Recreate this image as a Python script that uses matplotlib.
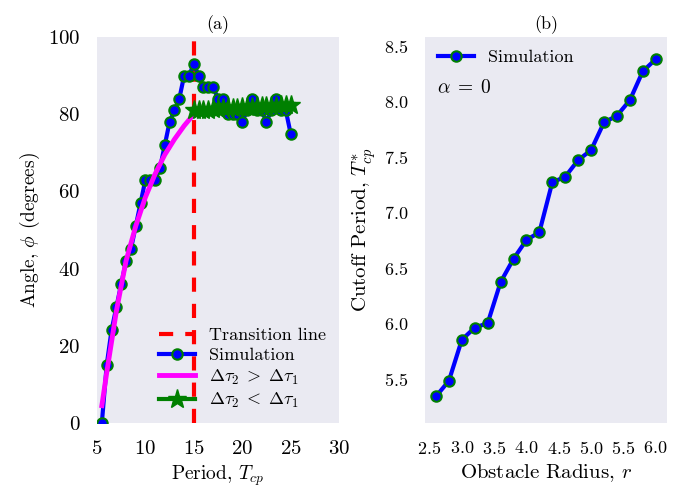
import matplotlib
matplotlib.use("Agg")
import matplotlib.pyplot as plt

# panel (a): angle vs period
period = [5.5, 6.0, 6.5, 7.0, 7.5, 8.0, 8.5, 9.0, 9.5, 10.0,
          10.5, 11.0, 11.5, 12.0, 12.5, 13.0, 13.5, 14.0, 14.5, 15.0,
          15.5, 16.0, 16.5, 17.0, 17.5, 18.0, 18.5, 19.0, 19.5, 20.0,
          20.5, 21.0, 21.5, 22.0, 22.5, 23.0, 23.5, 24.0, 24.5, 25.0]
angle_sim = [0, 15, 24, 30, 36, 42, 45, 51, 57, 63,
             63, 63, 66, 72, 78, 81, 84, 90, 90, 93,
             90, 87, 87, 87, 84, 84, 80, 80, 80, 78,
             81, 84, 81, 81, 78, 81, 84, 81, 81, 75]

period_gt = [5.5, 6.0, 7.0, 8.0, 9.0, 10.0, 11.0, 12.0, 13.0, 14.0, 15.0]
angle_gt = [4.5, 13, 29, 42, 51, 58.5, 64.5, 69.5, 73.5, 77, 80]

period_lt = [15.0, 15.5, 16.0, 16.5, 17.0, 17.5, 18.0, 18.5, 19.0, 19.5,
             20.0, 20.5, 21.0, 21.5, 22.0, 22.5, 23.0, 23.5, 24.0, 24.5, 25.0]
angle_lt = [81.0, 81.1, 81.2, 81.2, 81.3, 81.4, 81.5, 81.5, 81.6, 81.7,
            81.8, 81.8, 81.9, 82.0, 82.0, 82.1, 82.2, 82.2, 82.3, 82.4, 82.5]

transition = 15

# panel (b): cutoff period vs obstacle radius
radius = [2.6, 2.8, 3.0, 3.2, 3.4, 3.6, 3.8, 4.0, 4.2, 4.4,
          4.6, 4.8, 5.0, 5.2, 5.4, 5.6, 5.8, 6.0]
cutoff = [5.34, 5.48, 5.85, 5.96, 6.00, 6.37, 6.58, 6.75, 6.82, 7.27,
          7.32, 7.47, 7.56, 7.81, 7.87, 8.01, 8.27, 8.38]

plt.rcParams['font.family'] = 'serif'
plt.rcParams['font.serif'] = ['cmr10']
plt.rcParams['mathtext.fontset'] = 'cm'
plt.rcParams['axes.formatter.use_mathtext'] = True
plt.rcParams['axes.unicode_minus'] = False

fig = plt.figure(figsize=(6.87, 4.92), dpi=100)
ax1 = fig.add_axes([0.1412, 0.1402, 0.3523, 0.7846])
ax2 = fig.add_axes([0.6186, 0.1402, 0.3518, 0.7846])

for ax in (ax1, ax2):
    ax.set_facecolor('#EAEAF2')
    for s in ax.spines.values():
        s.set_visible(False)
    ax.tick_params(length=0, pad=12)

ax1.axvline(transition, color='red', ls='--', lw=3, dashes=(3.4, 2.9), label='Transition line')
ax1.plot(period, angle_sim, '-o', color='blue', lw=3, ms=7.5, mfc='blue', mec='green',
         mew=1.5, label='Simulation')
ax1.plot(period_gt, angle_gt, color='magenta', lw=3.5, label=r'$\Delta\tau_2\;>\;\Delta\tau_1$')
ax1.plot(period_lt, angle_lt, '-*', color='green', lw=3, ms=14,
         label=r'$\Delta\tau_2\;<\;\Delta\tau_1$')
ax1.set_xlim(5, 30)
ax1.set_ylim(0, 100)
ax1.set_xticks([5, 10, 15, 20, 25, 30])
ax1.set_yticks([0, 20, 40, 60, 80, 100])
ax1.tick_params(labelsize=15)
ax1.set_xlabel(r'Period, $T_{cp}$', fontsize=14)
ax1.set_ylabel(r'Angle, $\phi$ (degrees)', fontsize=14)
ax1.set_title('(a)', fontsize=13)
ax1.legend(loc='lower right', frameon=False, fontsize=13, labelspacing=0.25,
           borderaxespad=0.3)

ax2.plot(radius, cutoff, '-o', color='blue', lw=3, ms=7.5, mfc='blue', mec='green',
         mew=1.5, label='Simulation')
ax2.set_ylim(5.1, 8.58)
ax2.set_xticks([2.5, 3.0, 3.5, 4.0, 4.5, 5.0, 5.5, 6.0])
ax2.set_yticks([5.5, 6.0, 6.5, 7.0, 7.5, 8.0, 8.5])
ax2.tick_params(labelsize=13)
ax2.set_xlabel(r'Obstacle Radius, $r$', fontsize=15)
ax2.set_ylabel(r'Cutoff Period, $T^{*}_{cp}$', fontsize=15)
ax2.set_title('(b)', fontsize=13)
ax2.legend(loc='upper left', frameon=False, fontsize=13, borderaxespad=0.3)
ax2.text(0.05, 0.868, r'$\alpha\;=\;0$', transform=ax2.transAxes, fontsize=14, va='center')

fig.savefig('out.png', dpi=100)
